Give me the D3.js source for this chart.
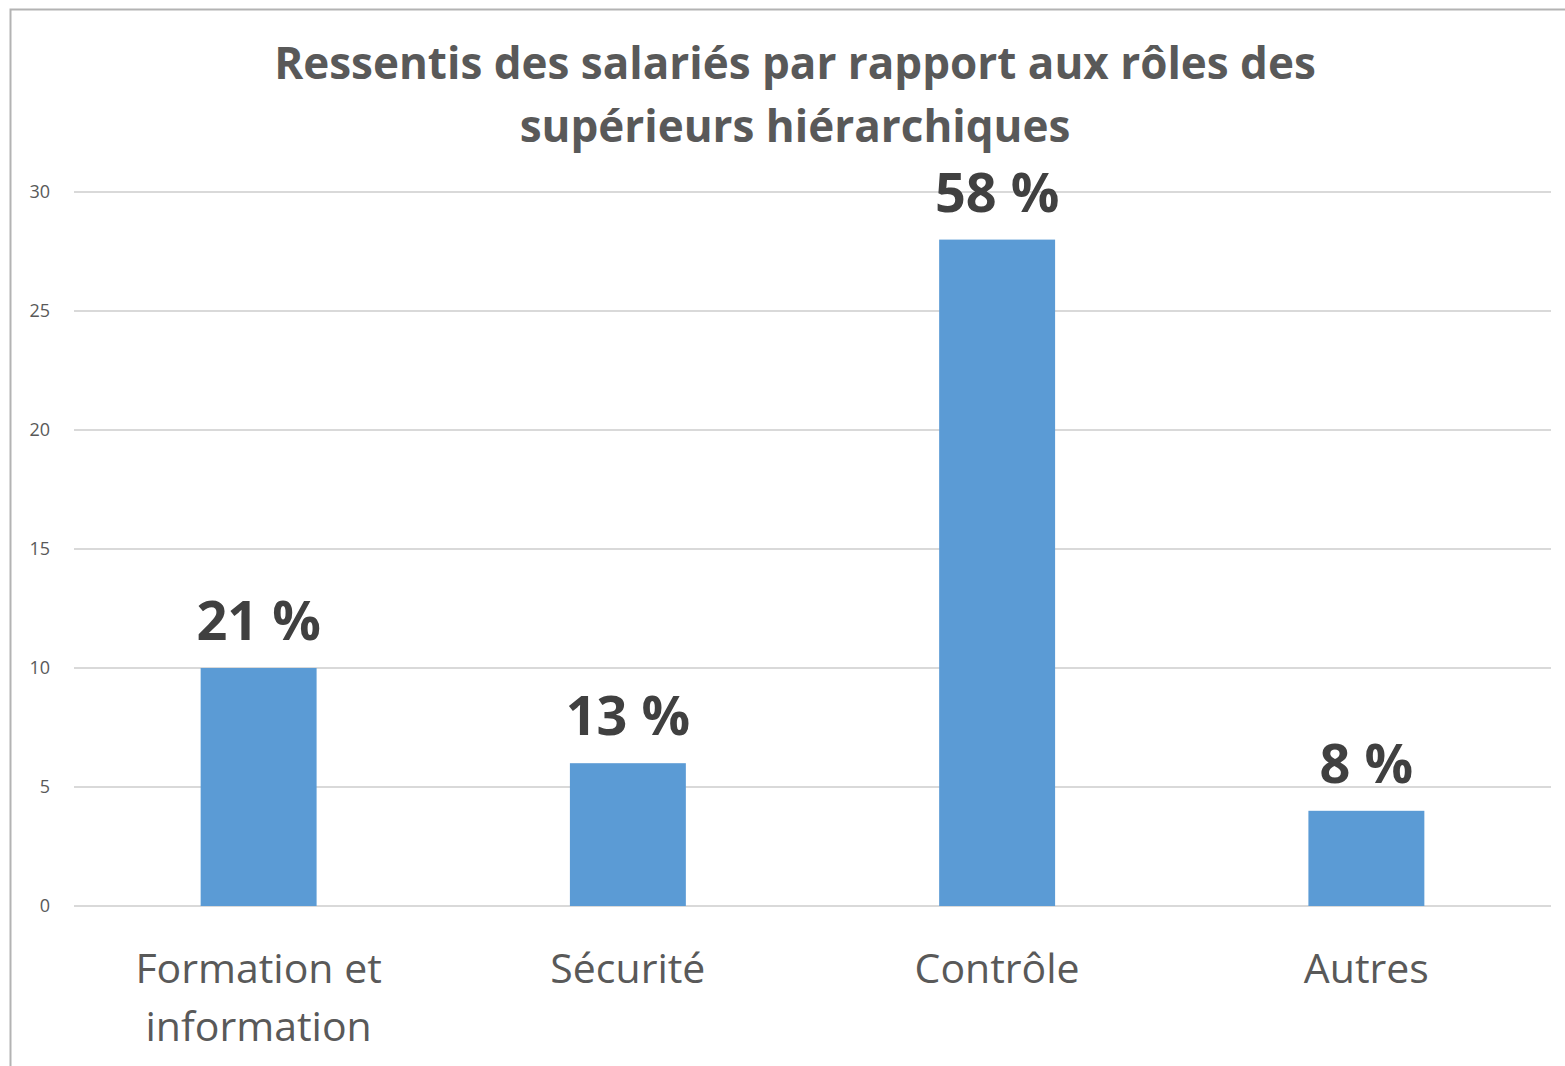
<!DOCTYPE html>
<meta charset="utf-8">
<style>
body { margin: 0; background: #fff; }
svg text { font-family: "Open Sans", Lato, sans-serif; }
.axis path, .axis line { display: none; }
.grid line { stroke: #d9d9d9; stroke-width: 2; }
</style>
<body>
<script src="https://d3js.org/d3.v7.min.js"></script>
<script>
var categories = [["Formation et", "information"], ["Sécurité"], ["Contrôle"], ["Autres"]];
var values = [10, 6, 28, 4];
var labels = ["21 %", "13 %", "58 %", "8 %"];
var yTicks = [0, 5, 10, 15, 20, 25, 30];
var titleLines = ["Ressentis des salariés par rapport aux rôles des", "supérieurs hiérarchiques"];

var W = 1565, H = 1066;
var margin = {top: 192, right: 14, bottom: 160, left: 74};
var width = W - margin.left - margin.right,
    height = H - margin.top - margin.bottom;

var svg = d3.select("body").append("svg")
    .attr("width", W)
    .attr("height", H);

// chart frame
svg.append("rect")
    .attr("x", 10.5).attr("y", 9.5)
    .attr("width", W + 20).attr("height", H + 20)
    .attr("fill", "none")
    .attr("stroke", "#b3b3b3")
    .attr("stroke-width", 2);

svg.selectAll(".title")
    .data(titleLines)
  .enter().append("text")
    .attr("x", 795)
    .attr("y", function(d, i) { return 79 + i * 63; })
    .attr("text-anchor", "middle")
    .style("font-size", "44px")
    .style("font-weight", "bold")
    .style("fill", "#595959")
    .text(function(d) { return d; });

var g = svg.append("g")
    .attr("transform", "translate(" + margin.left + "," + margin.top + ")");

var x = d3.scaleBand()
    .domain(d3.range(values.length))
    .range([0, width])
    .paddingInner(0.686)
    .paddingOuter(0.343);

var y = d3.scaleLinear()
    .domain([0, 30])
    .range([height, 0]);

g.append("g")
    .attr("class", "grid")
  .selectAll("line")
    .data(yTicks)
  .enter().append("line")
    .attr("x1", 0).attr("x2", width)
    .attr("y1", function(d) { return y(d); })
    .attr("y2", function(d) { return y(d); });

var yAxis = g.append("g")
    .attr("class", "axis")
    .call(d3.axisLeft(y).tickValues(yTicks).tickSize(0).tickPadding(24));
yAxis.selectAll("text")
    .style("font-size", "18px")
    .style("fill", "#595959");

g.selectAll(".bar")
    .data(values)
  .enter().append("rect")
    .attr("class", "bar")
    .attr("x", function(d, i) { return x(i); })
    .attr("y", function(d) { return y(d); })
    .attr("width", x.bandwidth())
    .attr("height", function(d) { return height - y(d); })
    .attr("fill", "#5b9bd5");

g.selectAll(".val")
    .data(values)
  .enter().append("text")
    .attr("class", "val")
    .attr("x", function(d, i) { return x(i) + x.bandwidth() / 2; })
    .attr("y", function(d) { return y(d) - 28; })
    .attr("text-anchor", "middle")
    .style("font-size", "54px")
    .style("font-weight", "bold")
    .style("fill", "#404040")
    .text(function(d, i) { return labels[i]; });

var cat = g.selectAll(".cat")
    .data(categories)
  .enter().append("text")
    .attr("class", "cat")
    .attr("text-anchor", "middle")
    .style("font-size", "41px")
    .style("fill", "#595959");
cat.selectAll("tspan")
    .data(function(d, i) { return d.map(function(s) { return {s: s, i: i}; }); })
  .enter().append("tspan")
    .attr("x", function(d) { return x(d.i) + x.bandwidth() / 2; })
    .attr("y", function(d, j) { return height + 77 + j * 58; })
    .text(function(d) { return d.s; });
</script>
</body>
